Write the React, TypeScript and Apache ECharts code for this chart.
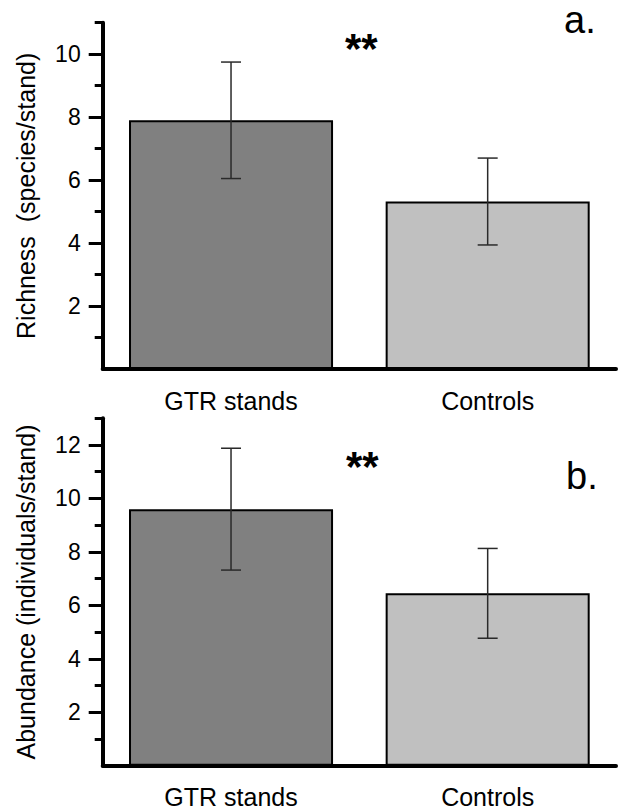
import React, { useEffect, useRef } from "react";
import * as echarts from "echarts";

const categories = ["GTR stands", "Controls"];
const richnessMean = [7.9, 5.32];
const richnessErr = [1.85, 1.38];
const abundanceMean = [9.6, 6.45];
const abundanceErr = [2.28, 1.68];
const barColors = ["#808080", "#c0c0c0"];
const richnessMax = 11;
const abundanceMax = 13;
const richnessMajorTicks = [2, 4, 6, 8, 10];
const richnessMinorTicks = [1, 3, 5, 7, 9, 11];
const abundanceMajorTicks = [2, 4, 6, 8, 10, 12];
const abundanceMinorTicks = [1, 3, 5, 7, 9, 11, 13];
const richnessTitle = "Richness  (species/stand)";
const abundanceTitle = "Abundance (individuals/stand)";
const panelLabels = ["a.", "b."];
const significance = "**";

const FONT = '"Liberation Sans", Arial, Helvetica, sans-serif';

function makeYAxes(gridIndex: number, max: number, major: number[], minor: number[], title: string) {
  return [
    {
      type: "value",
      gridIndex,
      position: "left",
      min: 0,
      max,
      name: title,
      nameLocation: "middle",
      nameGap: 64,
      nameTextStyle: { fontFamily: FONT, fontSize: 25, color: "#000" },
      axisLine: { show: true, lineStyle: { color: "#000", width: 4 } },
      axisTick: { show: true, customValues: major, length: 14, lineStyle: { color: "#000", width: 3 } },
      axisLabel: { show: true, customValues: major, margin: 22, fontFamily: FONT, fontSize: 23, color: "#000" },
      splitLine: { show: false },
    },
    {
      type: "value",
      gridIndex,
      position: "left",
      offset: 0,
      min: 0,
      max,
      axisLine: { show: false },
      axisTick: { show: true, customValues: minor, length: 8, lineStyle: { color: "#000", width: 3 } },
      axisLabel: { show: false },
      splitLine: { show: false },
    },
  ];
}

function barSeries(idx: number, means: number[]) {
  return {
    type: "bar",
    xAxisIndex: idx,
    yAxisIndex: idx * 2,
    barWidth: "79.5%",
    data: means.map((v, i) => ({ value: v, itemStyle: { color: barColors[i] } })),
    itemStyle: { borderColor: "#000", borderWidth: 2 },
    z: 2,
  };
}

function errorSeries(idx: number, means: number[], errs: number[]) {
  return {
    type: "custom",
    xAxisIndex: idx,
    yAxisIndex: idx * 2,
    data: means.map((m, i) => [i, m - errs[i], m + errs[i]]),
    renderItem: (params: any, api: any) => {
      const x = api.value(0);
      const lo = api.coord([x, api.value(1)]);
      const hi = api.coord([x, api.value(2)]);
      const hw = 10;
      const style = { stroke: "#2a2a2a", lineWidth: 1.5 };
      return {
        type: "group",
        children: [
          { type: "line", shape: { x1: lo[0], y1: lo[1], x2: hi[0], y2: hi[1] }, style },
          { type: "line", shape: { x1: lo[0] - hw, y1: lo[1], x2: lo[0] + hw, y2: lo[1] }, style },
          { type: "line", shape: { x1: hi[0] - hw, y1: hi[1], x2: hi[0] + hw, y2: hi[1] }, style },
        ],
      };
    },
    z: 10,
  };
}

export default function App() {
  const ref = useRef<HTMLDivElement>(null);
  useEffect(() => {
    if (!ref.current) return;
    const chart = echarts.init(ref.current, null, { renderer: "svg" });
    const xAxisBase = (gridIndex: number, margin: number) => ({
      type: "category",
      gridIndex,
      data: categories,
      axisLine: { show: true, lineStyle: { color: "#000", width: 4 } },
      axisTick: { show: false },
      axisLabel: { margin, fontFamily: FONT, fontSize: 25, color: "#000" },
    });
    chart.setOption({
      animation: false,
      backgroundColor: "#fff",
      grid: [
        { left: 102.7, right: 4, top: 22.7, height: 346.3 },
        { left: 102.7, right: 4, top: 418.3, height: 347.4 },
      ],
      xAxis: [xAxisBase(0, 19), xAxisBase(1, 19)],
      yAxis: [
        ...makeYAxes(0, richnessMax, richnessMajorTicks, richnessMinorTicks, richnessTitle),
        ...makeYAxes(1, abundanceMax, abundanceMajorTicks, abundanceMinorTicks, abundanceTitle),
      ],
      series: [
        barSeries(0, richnessMean),
        errorSeries(0, richnessMean, richnessErr),
        barSeries(1, abundanceMean),
        errorSeries(1, abundanceMean, abundanceErr),
      ],
      graphic: [
        { type: "text", x: 345, y: 48, style: { text: significance, font: `bold 42px ${FONT}`, fill: "#000", textAlign: "left", textVerticalAlign: "middle" } },
        { type: "text", x: 564, y: 20, style: { text: panelLabels[0], font: `38px ${FONT}`, fill: "#000", textAlign: "left", textVerticalAlign: "middle" } },
        { type: "text", x: 346, y: 466, style: { text: significance, font: `bold 42px ${FONT}`, fill: "#000", textAlign: "left", textVerticalAlign: "middle" } },
        { type: "text", x: 566, y: 476, style: { text: panelLabels[1], font: `38px ${FONT}`, fill: "#000", textAlign: "left", textVerticalAlign: "middle" } },
      ],
    });
    return () => chart.dispose();
  }, []);
  return (
    <div
      ref={ref}
      style={{ position: "fixed", left: 0, top: 0, width: 620, height: 812, background: "#fff" }}
    />
  );
}
